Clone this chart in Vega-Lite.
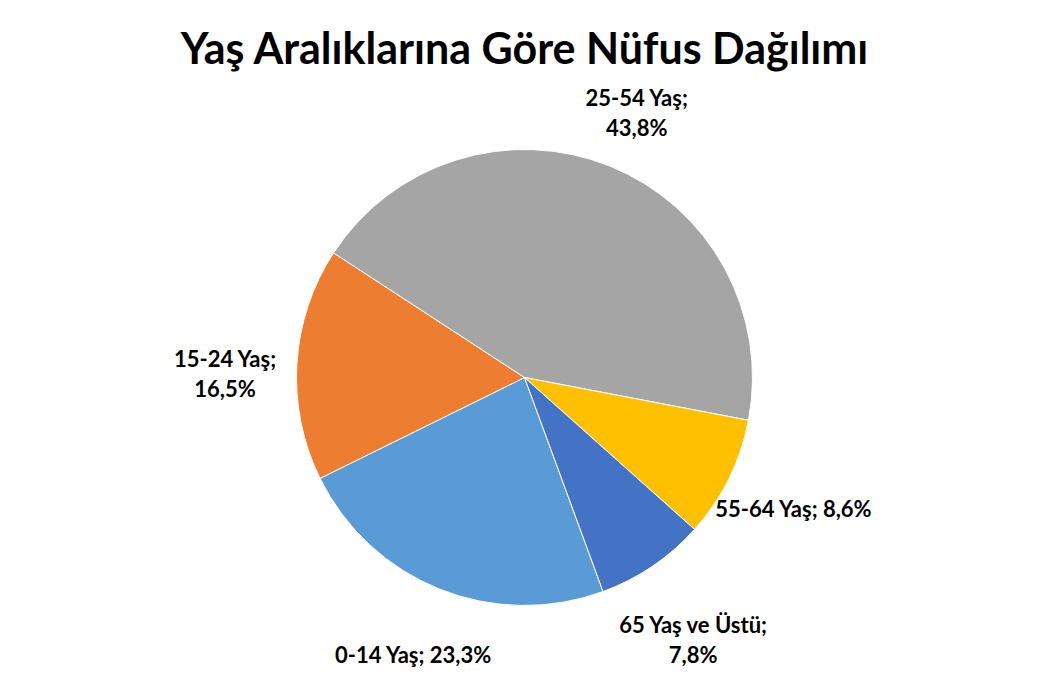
{
  "$schema": "https://vega.github.io/schema/vega-lite/v6.json",
  "width": 1049,
  "height": 677,
  "autosize": {"type": "fit", "contains": "padding"},
  "padding": {"top": 30, "left": 5, "right": 5, "bottom": 5},
  "background": "white",
  "title": {
    "text": "Yaş Aralıklarına Göre Nüfus Dağılımı",
    "font": "Lato",
    "fontSize": 43,
    "fontWeight": "bold",
    "color": "#000000",
    "anchor": "middle",
    "offset": 10
  },
  "config": {"view": {"stroke": null}},
  "data": {
    "values": [
      {"grup": "0-14 Yaş", "pay": 23.3, "etiket": "0-14 Yaş; 23,3%"},
      {"grup": "15-24 Yaş", "pay": 16.5, "etiket": "15-24 Yaş;\n16,5%"},
      {"grup": "25-54 Yaş", "pay": 43.8, "etiket": "25-54 Yaş;\n43,8%"},
      {"grup": "55-64 Yaş", "pay": 8.6, "etiket": "55-64 Yaş; 8,6%"},
      {"grup": "65 Yaş ve Üstü", "pay": 7.8, "etiket": "65 Yaş ve Üstü;\n7,8%"}
    ]
  },
  "encoding": {
    "theta": {
      "field": "pay",
      "type": "quantitative",
      "stack": true,
      "scale": {"range": [2.79, 9.073]}
    }
  },
  "layer": [
    {
      "mark": {"type": "arc", "outerRadius": 228, "stroke": "white", "strokeWidth": 1},
      "encoding": {
        "color": {
          "field": "grup",
          "type": "nominal",
          "sort": null,
          "scale": {
            "domain": ["0-14 Yaş", "15-24 Yaş", "25-54 Yaş", "55-64 Yaş", "65 Yaş ve Üstü"],
            "range": ["#5B9BD5", "#ED7D31", "#A5A5A5", "#FFC000", "#4472C4"]
          },
          "legend": null
        }
      }
    },
    {
      "mark": {
        "type": "text",
        "radius": 300,
        "font": "Lato",
        "fontSize": 22,
        "fontWeight": "bold",
        "lineBreak": "\n",
        "lineHeight": 30,
        "color": "#000000"
      },
      "encoding": {
        "text": {"field": "etiket", "type": "nominal"}
      }
    }
  ]
}
